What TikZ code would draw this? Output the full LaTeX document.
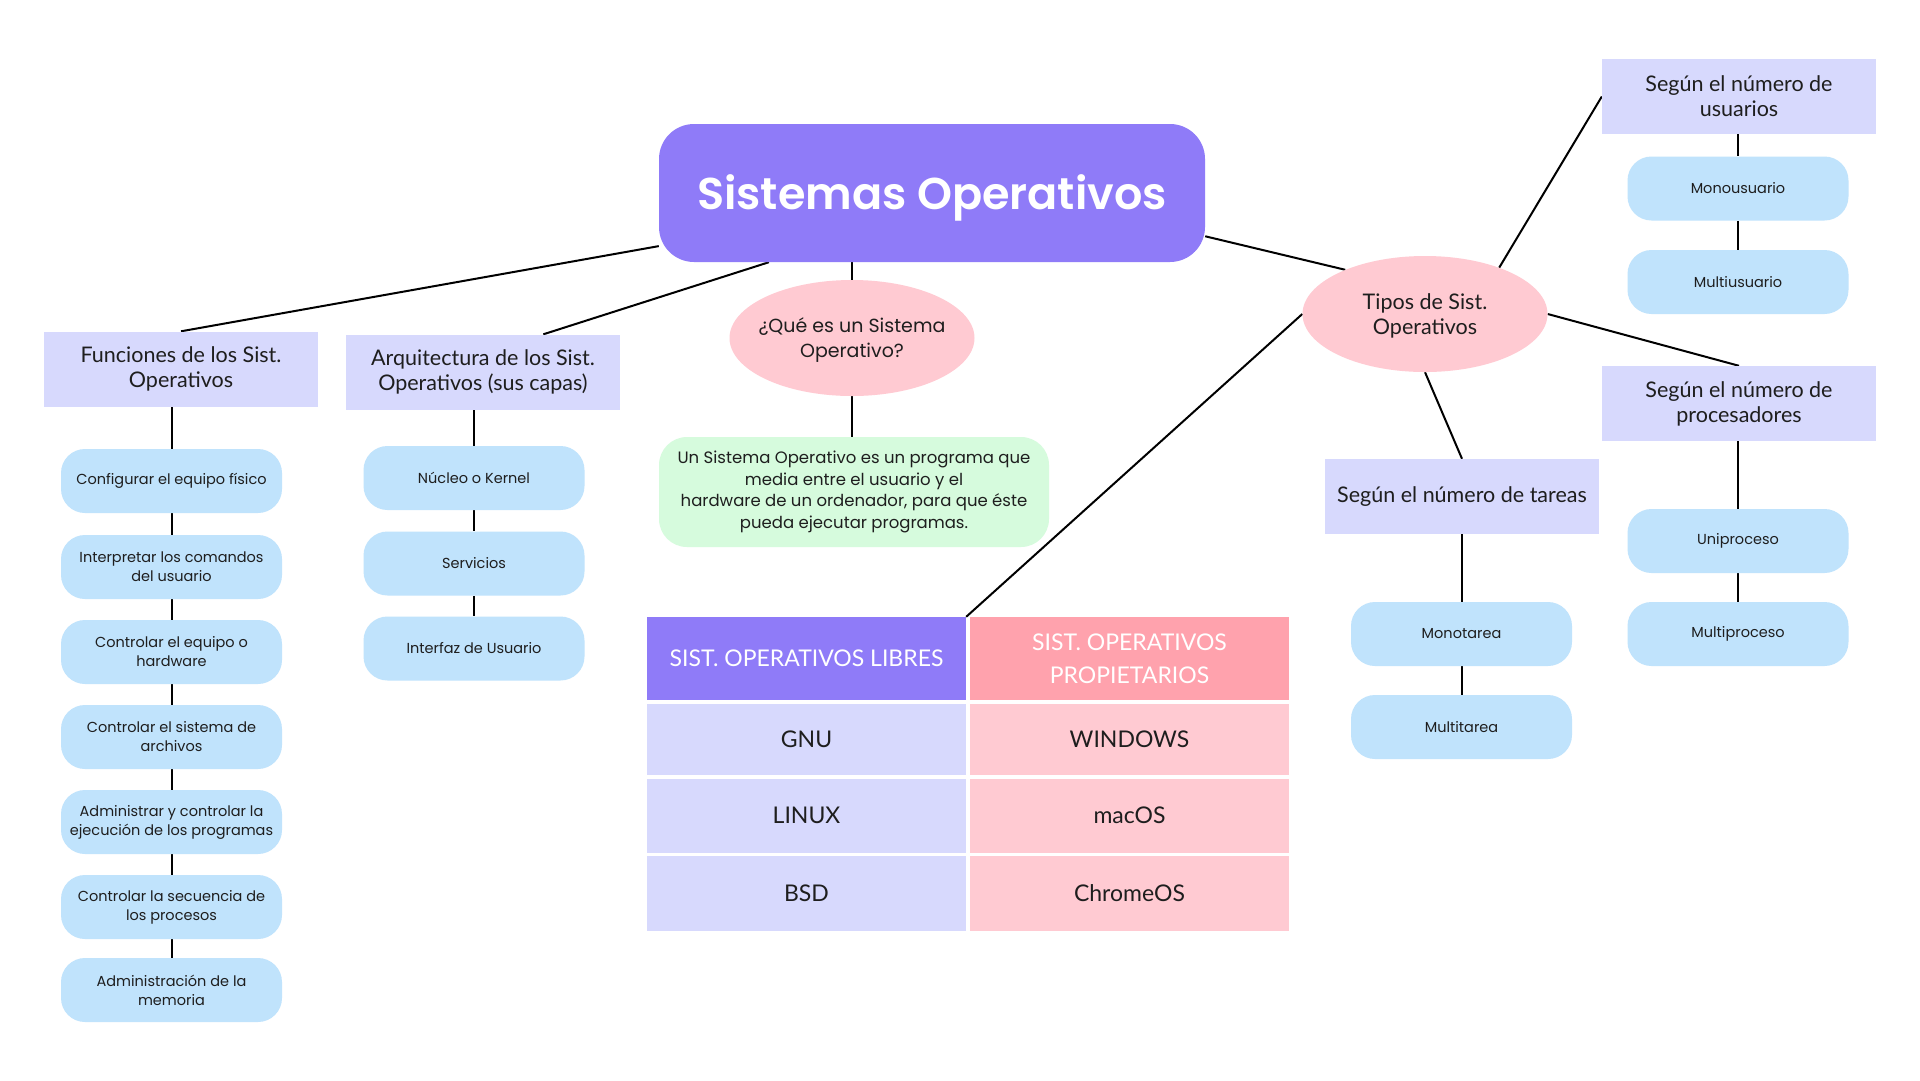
\documentclass[tikz,border=0pt]{standalone}
\usepackage{fontspec}
\setmainfont{Poppins}
\newfontfamily\hfont{Lato}
\newfontfamily\titlefont{Poppins SemiBold}
\usetikzlibrary{shapes.geometric,backgrounds,calc}
\definecolor{cViolet}{HTML}{8F7BF8}
\definecolor{cLav}{HTML}{D7D9FD}
\definecolor{cBlue}{HTML}{C0E3FC}
\definecolor{cPink}{HTML}{FFCAD2}
\definecolor{cPinkH}{HTML}{FFA2AD}
\definecolor{cGreen}{HTML}{D6FBDD}
\definecolor{cTxt}{HTML}{1E1E1E}
\begin{document}
\begin{tikzpicture}[x=1pt,y=-1pt,
  conn/.style={draw=black, line width=2pt},
  hdr/.style={rectangle, fill=cLav, minimum width=274pt, minimum height=75pt, inner sep=0pt, align=center, text=cTxt, font=\hfont\fontsize{21.5}{25}\selectfont},
  leaf/.style={rectangle, rounded corners=24pt, fill=cBlue, minimum width=221pt, minimum height=64pt, inner sep=0pt, align=center, text=cTxt, font=\fontsize{14.5}{19}\selectfont},
  oval/.style={ellipse, fill=cPink, minimum width=245pt, minimum height=116pt, inner sep=0pt},
  cell/.style={rectangle, minimum width=319pt, inner sep=0pt, align=center, text=cTxt, font=\hfont\fontsize{23}{33}\selectfont}
]
\useasboundingbox (0,0) rectangle (1920,1080);

% title
\node[rectangle, rounded corners=35pt, fill=cViolet, minimum width=546pt, minimum height=138pt, inner sep=0pt, text=white, font=\titlefont\fontsize{44.5}{50}\selectfont] (title) at (932,193) {\raisebox{-16pt}[0pt][0pt]{Sistemas Operativos}};

% Funciones
\node[hdr] (fun) at (181,369) {Funciones de los Sist.\\Operativos};
\node[leaf] (f1) at (171.5,481) {Configurar el equipo físico};
\node[leaf] (f2) at (171.5,567) {Interpretar los comandos\\del usuario};
\node[leaf] (f3) at (171.5,652) {Controlar el equipo o\\hardware};
\node[leaf] (f4) at (171.5,737) {Controlar el sistema de\\archivos};
\node[leaf] (f5) at (171.5,822) {Administrar y controlar la\\ejecución de los programas};
\node[leaf] (f6) at (171.5,907) {Controlar la secuencia de\\los procesos};
\node[leaf] (f7) at (171.5,990) {Administración de la\\memoria};

% Arquitectura
\node[hdr] (arq) at (483,372) {Arquitectura de los Sist.\\Operativos (sus capas)};
\node[leaf] (a1) at (474,478) {Núcleo o Kernel};
\node[leaf] (a2) at (474,563.5) {Servicios};
\node[leaf] (a3) at (474,648.5) {Interfaz de Usuario};

% Que es
\node[oval] (que) at (852,338) {};
\node[align=center, text=cTxt, font=\fontsize{19}{25}\selectfont] (queT) at ([yshift=-2pt]que.center) {¿Qué es un Sistema\\Operativo?};
\node[rectangle, rounded corners=28pt, fill=cGreen, minimum width=390pt, minimum height=110pt, inner sep=0pt, align=center, text=cTxt, font=\fontsize{16.5}{21.7}\selectfont] (def) at (854,492) {Un Sistema Operativo es un programa que\\media entre el usuario y el\\hardware de un ordenador, para que éste\\pueda ejecutar programas.};

% Tipos
\node[oval] (tipos) at (1425,314) {};
\node[align=center, text=cTxt, font=\hfont\fontsize{21.5}{25}\selectfont] (tiposT) at ([yshift=-2pt]tipos.center) {Tipos de Sist.\\Operativos};

\node[hdr] (usu) at (1739,96.5) {Según el número de\\usuarios};
\node[leaf] (u1) at (1738,188.5) {Monousuario};
\node[leaf] (u2) at (1738,282) {Multiusuario};

\node[hdr] (proc) at (1739,403.5) {Según el número de\\procesadores};
\node[leaf] (p1) at (1738,541) {Uniproceso};
\node[leaf] (p2) at (1738,634) {Multiproceso};

\node[hdr] (tar) at (1462,496.5) {Según el número de tareas};
\node[leaf] (t1) at (1461.5,634) {Monotarea};
\node[leaf] (t2) at (1461.5,727) {Multitarea};

% table
\node[cell, fill=cViolet, minimum height=83pt, text=white] (h1) at (806.5,658.5) {SIST. OPERATIVOS LIBRES};
\node[cell, fill=cPinkH, minimum height=83pt, text=white] (h2) at (1129.5,658.5) {SIST. OPERATIVOS\\PROPIETARIOS};
\node[cell, fill=cLav, minimum height=71pt] (g1) at (806.5,739.5) {GNU};
\node[cell, fill=cPink, minimum height=71pt] (w1) at (1129.5,739.5) {WINDOWS};
\node[cell, fill=cLav, minimum height=74pt] (g2) at (806.5,815.5) {LINUX};
\node[cell, fill=cPink, minimum height=74pt] (w2) at (1129.5,815.5) {macOS};
\node[cell, fill=cLav, minimum height=75pt] (g3) at (806.5,893.5) {BSD};
\node[cell, fill=cPink, minimum height=75pt] (w3) at (1129.5,893.5) {ChromeOS};

\begin{pgfonlayer}{background}
\fill[white] (0,0) rectangle (1920,1080);
\draw[conn] (title.191) -- (fun.north);
\draw[conn] (title.203) -- (arq.32);
\draw[conn] (que.north |- title.south) -- (que.north);
\draw[conn] (title.-9) -- (tipos.151);
\draw[conn] (que.south) -- (que.south |- def.north);
\draw[conn] (f1.north |- fun.south) -- (f1.north);
\draw[conn] (f1.south) -- (f2.north);
\draw[conn] (f2.south) -- (f3.north);
\draw[conn] (f3.south) -- (f4.north);
\draw[conn] (f4.south) -- (f5.north);
\draw[conn] (f5.south) -- (f6.north);
\draw[conn] (f6.south) -- (f7.north);
\draw[conn] (a1.north |- arq.south) -- (a1.north);
\draw[conn] (a1.south) -- (a2.north);
\draw[conn] (a2.south) -- (a3.north);
\draw[conn] (tipos.32) -- (usu.west);
\draw[conn] (u1.north |- usu.south) -- (u1.north);
\draw[conn] (u1.south) -- (u2.north);
\draw[conn] (tipos.east) -- (proc.north);
\draw[conn] (p1.north |- proc.south) -- (p1.north);
\draw[conn] (p1.south) -- (p2.north);
\draw[conn] (tipos.south) -- (tar.north);
\draw[conn] (t1.north |- tar.south) -- (t1.north);
\draw[conn] (t1.south) -- (t2.north);
\draw[conn] (tipos.west) -- (h1.north east);
\end{pgfonlayer}
\end{tikzpicture}
\end{document}
